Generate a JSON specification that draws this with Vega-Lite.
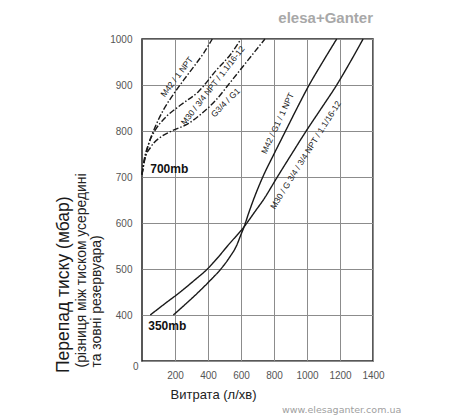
{
  "$schema": "https://vega.github.io/schema/vega-lite/v6.json",
  "autosize": {"type": "none"},
  "width": 231,
  "height": 322,
  "padding": {"left": 142, "top": 39, "right": 79, "bottom": 59},
  "background": "white",
  "config": {
    "view": {"stroke": "#222", "strokeWidth": 1.5},
    "font": "Liberation Sans"
  },
  "title": {"text": "Перепад тиску (мбар)", "orient": "left", "anchor": "start", "frame": "group", "offset": 2, "dx": -12, "fontSize": 17.5, "fontWeight": "normal", "color": "#1a1a1a", "font": "Liberation Sans"},
  "datasets": {
    "curves": [
      {"series": "R", "style": "solid", "x": 50, "y": 400},
      {"series": "R", "style": "solid", "x": 140, "y": 425},
      {"series": "R", "style": "solid", "x": 232, "y": 450},
      {"series": "R", "style": "solid", "x": 316, "y": 475},
      {"series": "R", "style": "solid", "x": 396, "y": 500},
      {"series": "R", "style": "solid", "x": 460, "y": 525},
      {"series": "R", "style": "solid", "x": 518, "y": 550},
      {"series": "R", "style": "solid", "x": 619, "y": 592},
      {"series": "R", "style": "solid", "x": 691, "y": 628},
      {"series": "R", "style": "solid", "x": 735, "y": 650},
      {"series": "R", "style": "solid", "x": 820, "y": 700},
      {"series": "R", "style": "solid", "x": 907, "y": 750},
      {"series": "R", "style": "solid", "x": 995, "y": 800},
      {"series": "R", "style": "solid", "x": 1088, "y": 850},
      {"series": "R", "style": "solid", "x": 1180, "y": 900},
      {"series": "R", "style": "solid", "x": 1262, "y": 950},
      {"series": "R", "style": "solid", "x": 1340, "y": 1000},
      {"series": "L", "style": "solid", "x": 190, "y": 400},
      {"series": "L", "style": "solid", "x": 268, "y": 425},
      {"series": "L", "style": "solid", "x": 343, "y": 450},
      {"series": "L", "style": "solid", "x": 413, "y": 475},
      {"series": "L", "style": "solid", "x": 478, "y": 500},
      {"series": "L", "style": "solid", "x": 530, "y": 525},
      {"series": "L", "style": "solid", "x": 572, "y": 550},
      {"series": "L", "style": "solid", "x": 600, "y": 575},
      {"series": "L", "style": "solid", "x": 619, "y": 592},
      {"series": "L", "style": "solid", "x": 645, "y": 620},
      {"series": "L", "style": "solid", "x": 675, "y": 650},
      {"series": "L", "style": "solid", "x": 732, "y": 700},
      {"series": "L", "style": "solid", "x": 800, "y": 750},
      {"series": "L", "style": "solid", "x": 870, "y": 800},
      {"series": "L", "style": "solid", "x": 940, "y": 850},
      {"series": "L", "style": "solid", "x": 1013, "y": 900},
      {"series": "L", "style": "solid", "x": 1095, "y": 950},
      {"series": "L", "style": "solid", "x": 1180, "y": 1000},
      {"series": "A", "style": "dashdot", "x": 0, "y": 705},
      {"series": "A", "style": "dashdot", "x": 15, "y": 735},
      {"series": "A", "style": "dashdot", "x": 39, "y": 770},
      {"series": "A", "style": "dashdot", "x": 80, "y": 809},
      {"series": "A", "style": "dashdot", "x": 130, "y": 846},
      {"series": "A", "style": "dashdot", "x": 191, "y": 880},
      {"series": "A", "style": "dashdot", "x": 253, "y": 911},
      {"series": "A", "style": "dashdot", "x": 314, "y": 940},
      {"series": "A", "style": "dashdot", "x": 375, "y": 970},
      {"series": "A", "style": "dashdot", "x": 426, "y": 1000},
      {"series": "B", "style": "dashdot", "x": 0, "y": 705},
      {"series": "B", "style": "dashdot", "x": 12, "y": 735},
      {"series": "B", "style": "dashdot", "x": 40, "y": 772},
      {"series": "B", "style": "dashdot", "x": 80, "y": 802},
      {"series": "B", "style": "dashdot", "x": 130, "y": 825},
      {"series": "B", "style": "dashdot", "x": 240, "y": 858},
      {"series": "B", "style": "dashdot", "x": 340, "y": 885},
      {"series": "B", "style": "dashdot", "x": 450, "y": 932},
      {"series": "B", "style": "dashdot", "x": 540, "y": 968},
      {"series": "B", "style": "dashdot", "x": 600, "y": 1000},
      {"series": "C", "style": "dashdot", "x": 0, "y": 705},
      {"series": "C", "style": "dashdot", "x": 15, "y": 737},
      {"series": "C", "style": "dashdot", "x": 55, "y": 766},
      {"series": "C", "style": "dashdot", "x": 118, "y": 788},
      {"series": "C", "style": "dashdot", "x": 180, "y": 800},
      {"series": "C", "style": "dashdot", "x": 280, "y": 816},
      {"series": "C", "style": "dashdot", "x": 355, "y": 836},
      {"series": "C", "style": "dashdot", "x": 450, "y": 868},
      {"series": "C", "style": "dashdot", "x": 540, "y": 908},
      {"series": "C", "style": "dashdot", "x": 640, "y": 953},
      {"series": "C", "style": "dashdot", "x": 745, "y": 1000}
    ],
    "labels": [
      {"id": "a", "x": 210, "y": 918, "t": "M42 / 1 NPT"},
      {"id": "b", "x": 428, "y": 899, "t": "M30 / 3/4 NPT / 1.1/16-12"},
      {"id": "c", "x": 505, "y": 862, "t": "G3/4 / G1"},
      {"id": "d", "x": 821, "y": 817, "t": "M42 / G1 / 1 NPT"},
      {"id": "e", "x": 990, "y": 748, "t": "M30 / G 3/4 / 3/4 NPT / 1.1/16-12"}
    ],
    "notes": [
      {"x": 50, "y": 718, "t": "700mb"},
      {"x": 38, "y": 376, "t": "350mb"}
    ],
    "brand": [
      {"x": 1400, "y": 1035, "t": "elesa+Ganter"}
    ],
    "url": [
      {"x": 1210, "y": 193, "t": "www.elesaganter.com.ua"}
    ]
  },
  "encoding": {
    "x": {"field": "x", "type": "quantitative", "scale": {"domain": [0, 1400], "nice": false, "zero": false},
      "axis": {"values": [200, 400, 600, 800, 1000, 1200, 1400], "format": "d", "grid": true, "gridColor": "#8c8c8c", "gridWidth": 1, "domain": false, "ticks": false, "labelPadding": 9, "labelFlush": false, "labelOverlap": false, "labelFont": "Liberation Sans", "labelFontSize": 10, "labelColor": "#555",
        "title": "Витрата (л/хв)", "titleFont": "Liberation Sans", "titleFontSize": 13, "titleFontWeight": "normal", "titleColor": "#222", "titleX": 71, "titleY": 27, "titleAlign": "center", "titleBaseline": "top"}},
    "y": {"field": "y", "type": "quantitative", "scale": {"domain": [300, 1000], "nice": false, "zero": false},
      "axis": {"values": [300, 400, 500, 600, 700, 800, 900, 1000], "format": "d", "labelExpr": "datum.value == 300 ? '0' : datum.label", "grid": true, "gridColor": "#8c8c8c", "gridWidth": 1, "domain": false, "ticks": false,
        "labelPadding": {"condition": {"test": "datum.value == 300", "value": 4}, "value": 10},
        "labelBaseline": {"condition": {"test": "datum.value == 300", "value": "top"}, "value": "middle"},
        "labelFlush": false, "labelOverlap": false, "labelFont": "Liberation Sans", "labelFontSize": 10, "labelColor": "#555",
        "title": ["(різниця між тиском усередині", "та зовні резервуара)"], "titleFont": "Liberation Sans", "titleFontSize": 13.9, "titleFontWeight": "normal", "titleColor": "#222", "titleAngle": 270, "titleAlign": "left", "titleBaseline": "bottom", "titleX": -54, "titleY": 328, "titleLineHeight": 15}}
  },
  "layer": [
    {
      "data": {"name": "curves"},
      "mark": {"type": "line", "interpolate": "monotone", "strokeWidth": 1.4, "color": "#1a1a1a"},
      "encoding": {
        "detail": {"field": "series"},
        "strokeDash": {"field": "style", "type": "nominal", "scale": {"domain": ["solid", "dashdot"], "range": [[1, 0], [6, 2, 1.5, 2]]}, "legend": null}
      }
    },
    {
      "data": {"name": "notes"},
      "mark": {"type": "text", "align": "left", "baseline": "middle", "font": "Liberation Sans", "fontSize": 12, "fontWeight": "bold", "color": "#111"},
      "encoding": {"text": {"field": "t"}}
    },
    {
      "data": {"name": "labels"},
      "transform": [{"filter": "datum.id == 'a'"}],
      "mark": {"type": "text", "angle": 307, "align": "center", "baseline": "middle", "font": "Liberation Sans", "fontSize": 8.5, "color": "#1a1a1a"},
      "encoding": {"text": {"field": "t"}}
    },
    {
      "data": {"name": "labels"},
      "transform": [{"filter": "datum.id == 'b'"}],
      "mark": {"type": "text", "angle": 308, "align": "center", "baseline": "middle", "font": "Liberation Sans", "fontSize": 8.5, "color": "#1a1a1a"},
      "encoding": {"text": {"field": "t"}}
    },
    {
      "data": {"name": "labels"},
      "transform": [{"filter": "datum.id == 'c'"}],
      "mark": {"type": "text", "angle": 315, "align": "center", "baseline": "middle", "font": "Liberation Sans", "fontSize": 8.5, "color": "#1a1a1a"},
      "encoding": {"text": {"field": "t"}}
    },
    {
      "data": {"name": "labels"},
      "transform": [{"filter": "datum.id == 'd'"}],
      "mark": {"type": "text", "angle": 295, "align": "center", "baseline": "middle", "font": "Liberation Sans", "fontSize": 8.5, "color": "#1a1a1a"},
      "encoding": {"text": {"field": "t"}}
    },
    {
      "data": {"name": "labels"},
      "transform": [{"filter": "datum.id == 'e'"}],
      "mark": {"type": "text", "angle": 302, "align": "center", "baseline": "middle", "font": "Liberation Sans", "fontSize": 8.5, "color": "#1a1a1a"},
      "encoding": {"text": {"field": "t"}}
    },
    {
      "data": {"name": "brand"},
      "mark": {"type": "text", "align": "right", "baseline": "alphabetic", "font": "Liberation Sans", "fontSize": 15, "fontWeight": "bold", "color": "#a8a8a8"},
      "encoding": {"text": {"field": "t"}}
    },
    {
      "data": {"name": "url"},
      "mark": {"type": "text", "align": "center", "baseline": "middle", "font": "DejaVu Sans", "fontSize": 9.5, "color": "#a0a0a0"},
      "encoding": {"text": {"field": "t"}}
    }
  ]
}
